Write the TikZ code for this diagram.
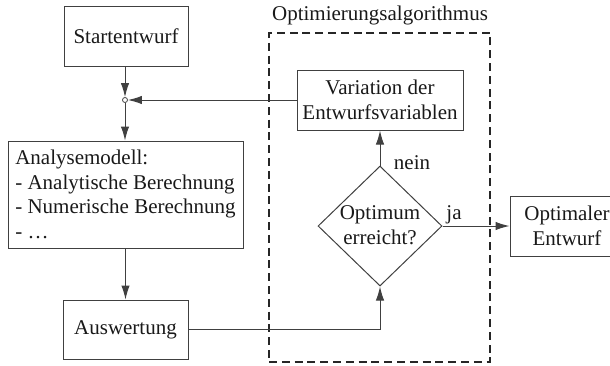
\documentclass[tikz,border=0pt]{standalone}
\usepackage{fontspec}
\setmainfont{Liberation Serif}
\usetikzlibrary{arrows.meta,shapes.geometric}
\begin{document}
\begin{tikzpicture}[x=0.5pt,y=-0.5pt,
  font=\fontsize{10.5pt}{12.3pt}\selectfont, text=black!90,
  box/.style={draw=black!75, line width=0.5pt, inner sep=0pt, align=center},
  arr/.style={draw=black!75, line width=0.5pt, -{Latex[length=7pt,width=4.2pt]}},
  frame/.style={draw=black!85, line width=1pt, dash pattern=on 4pt off 2.4pt, inner sep=0pt}]
\useasboundingbox (0,0) rectangle (610,365);
\node[frame, minimum width=110.5pt, minimum height=164.5pt] (algo) at (379.5,197.5) {};
\node (title) at (380,15) {Optimierungsalgorithmus};
\node[box, minimum width=62pt, minimum height=30pt] (start) at (126,36) {Startentwurf};
\node[box, minimum width=117.5pt, minimum height=53.5pt, align=left] (ana) at (125.5,194.5) {Analysemodell:\\- Analytische Berechnung\\- Numerische Berechnung\\- \dots};
\node[box, minimum width=62.5pt, minimum height=29.5pt] (ausw) at (125.5,329.5) {Auswertung};
\node[box, minimum width=83pt, minimum height=30pt] (var) at (380,100) {Variation der\\Entwurfsvariablen};
\node[box, diamond, minimum width=62pt, minimum height=60pt] (opt) at (380,226) {};
\node[align=center, inner sep=0pt] (optt) at (380,225) {Optimum\\erreicht?};
\node[box, minimum width=57pt, minimum height=30pt] (end) at (567,226) {Optimaler\\Entwurf};
\node[circle, draw=black!75, line width=0.4pt, fill=white, inner sep=0pt, minimum size=2.5pt] (j) at (125,100) {};
\draw[arr] (start.south -| j) -- (j);
\draw[arr] (var.west) -- (j);
\draw[arr] (j) -- (j |- ana.north);
\draw[arr] (ana) -- (ausw);
\draw[arr] (ausw.east) -| (opt.south);
\draw[arr] (opt.north) -- (var.south);
\draw[arr] (opt.east) -- (end.west);
\node (nein) at (412,163) {nein};
\node (ja) at (454,215) {ja};
\end{tikzpicture}
\end{document}
